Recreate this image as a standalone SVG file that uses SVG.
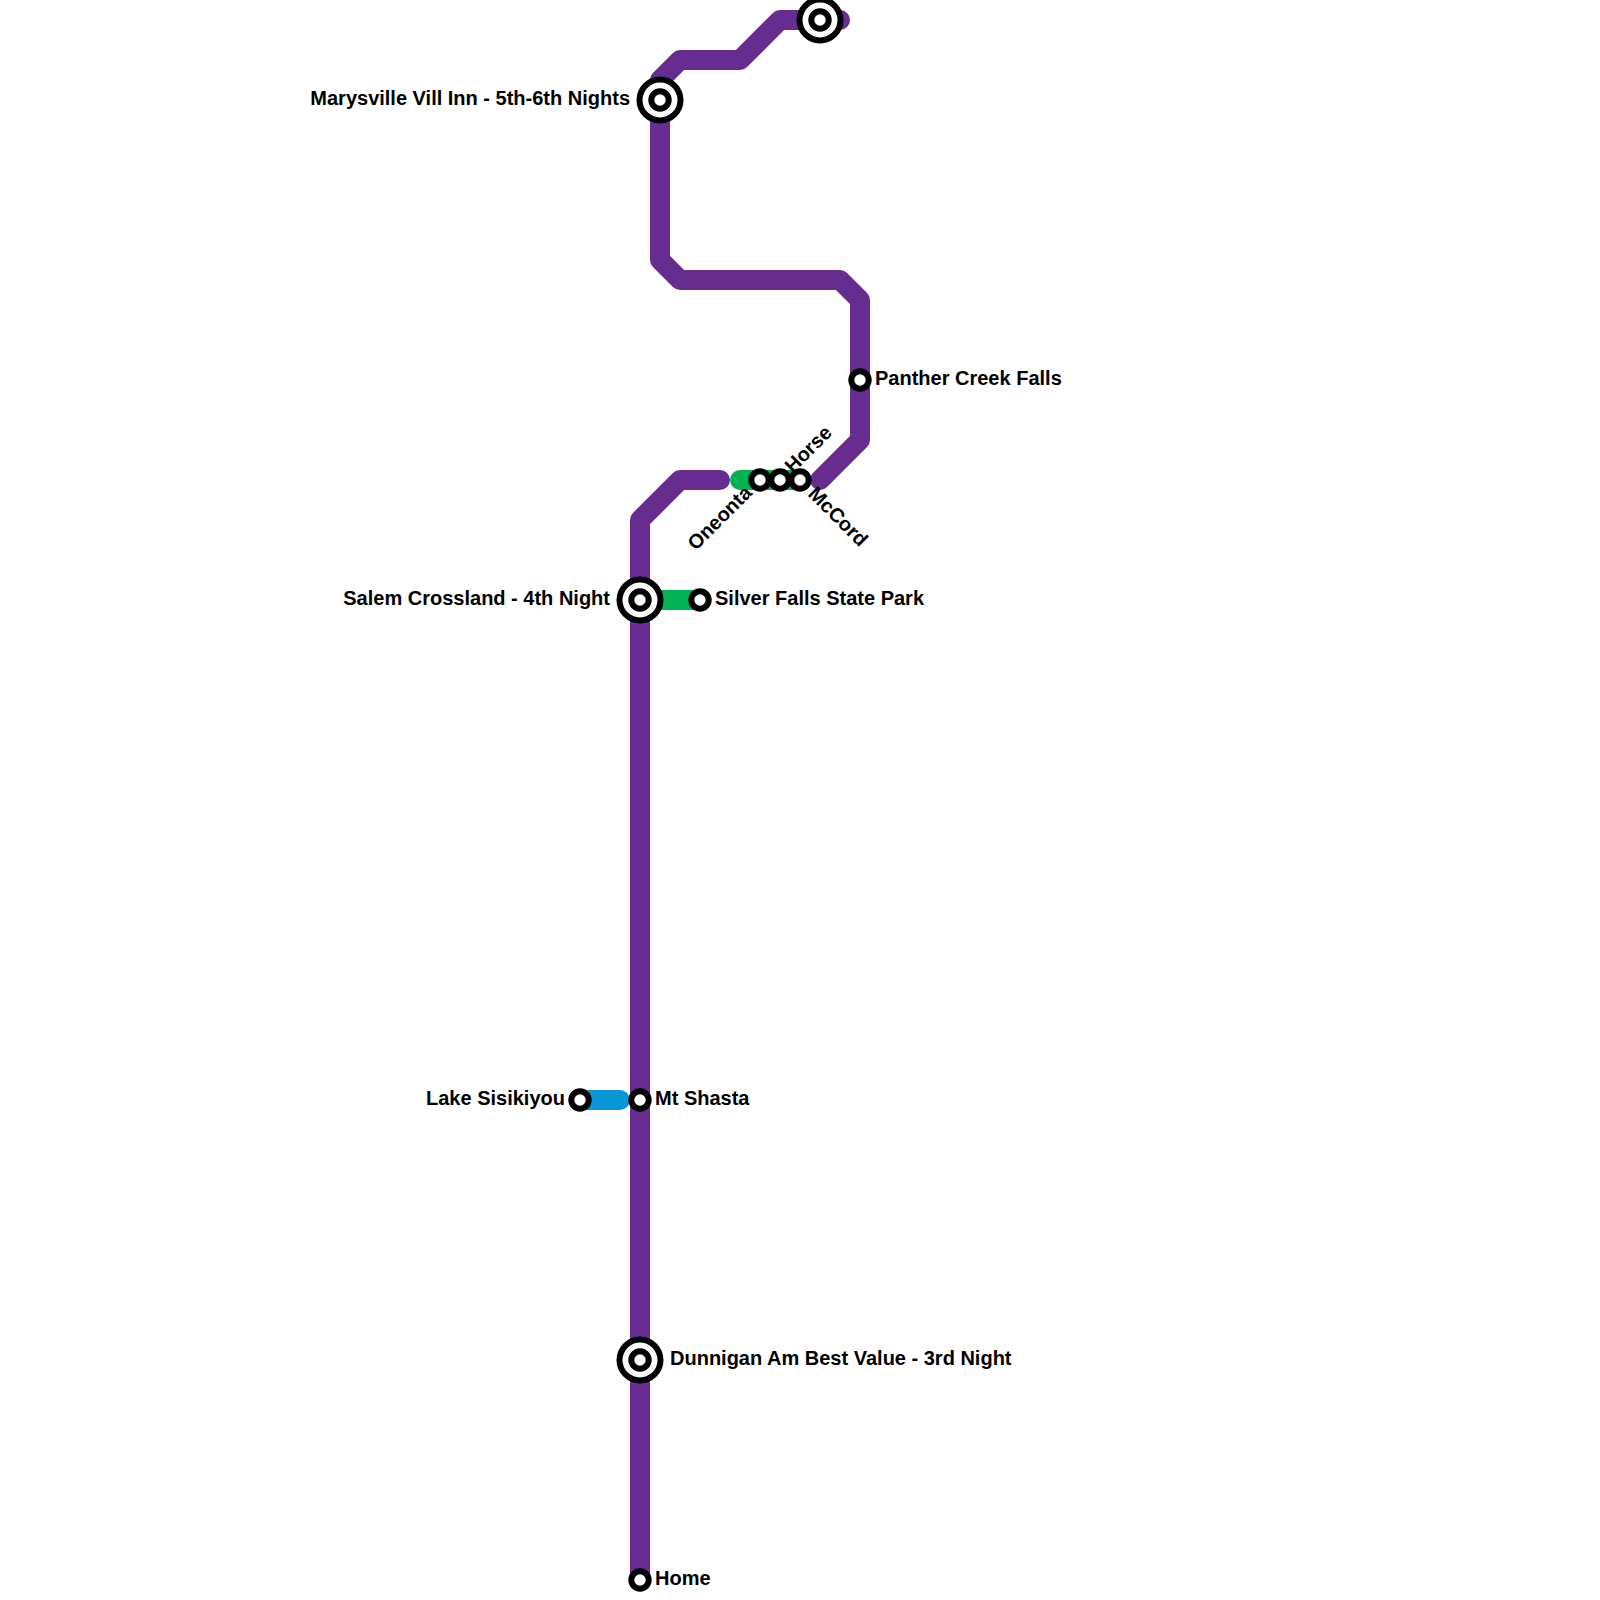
<svg xmlns="http://www.w3.org/2000/svg" width="1600" height="1600" viewBox="0 0 1600 1600">
<style>
.l{fill:none;stroke-width:20;stroke-linecap:round;stroke-linejoin:round}
.p{stroke:#662c90}.g{stroke:#00b251}.b{stroke:#0896d7}
.s{fill:#fff;stroke:#000;stroke-width:6}
.o{fill:#fff;stroke:#000;stroke-width:6}
text{font-family:"Liberation Sans",Arial,sans-serif;font-weight:bold;font-size:20px;fill:#000}
.e{text-anchor:end}
</style>
<g id="connectors">
<path class="l g" d="M660 600H700"/>
<path class="l g" d="M740 480H800"/>
<path class="l b" d="M580 1100H620"/>
<path class="l p" d="M640 1580V520L680 480H720"/>
<path class="l p" d="M820 480L860 440V300L840 280H680L660 260V80L680 60H740L780 20H840"/>
</g>
<g id="st-home"><circle class="s" cx="640" cy="1580" r="8.7"/><text x="655" y="1585">Home</text></g>
<g id="st-dunnigan"><circle class="o" cx="640" cy="1360" r="20.5"/><circle class="s" cx="640" cy="1360" r="8.7"/><text x="670" y="1365">Dunnigan Am Best Value - 3rd Night</text></g>
<g id="st-shasta"><circle class="s" cx="640" cy="1100" r="8.7"/><text x="655" y="1105">Mt Shasta</text></g>
<g id="st-lake"><circle class="s" cx="580" cy="1100" r="8.7"/><text class="e" x="565" y="1105">Lake Sisikiyou</text></g>
<g id="st-salem"><circle class="o" cx="640" cy="600" r="20.5"/><circle class="s" cx="640" cy="600" r="8.7"/><text class="e" x="610" y="605">Salem Crossland - 4th Night</text></g>
<g id="st-silver"><circle class="s" cx="700" cy="600" r="8.7"/><text x="715" y="605">Silver Falls State Park</text></g>
<g id="st-oneonta"><circle class="s" cx="760" cy="480" r="8.7"/><text class="e" transform="translate(753 494) rotate(-45)">Oneonta</text></g>
<g id="st-horse"><circle class="s" cx="780" cy="480" r="8.7"/><text transform="translate(793 474) rotate(-45)">Horse</text></g>
<g id="st-mccord"><circle class="s" cx="800" cy="480" r="8.7"/><text transform="translate(807 495) rotate(45)">McCord</text></g>
<g id="st-panther"><circle class="s" cx="860" cy="380" r="8.7"/><text x="875" y="385">Panther Creek Falls</text></g>
<g id="st-marysville"><circle class="o" cx="660" cy="100" r="20.5"/><circle class="s" cx="660" cy="100" r="8.7"/><text class="e" x="630" y="105">Marysville Vill Inn - 5th-6th Nights</text></g>
<g id="st-top"><circle class="o" cx="820" cy="20" r="20.5"/><circle class="s" cx="820" cy="20" r="8.7"/></g>
</svg>
